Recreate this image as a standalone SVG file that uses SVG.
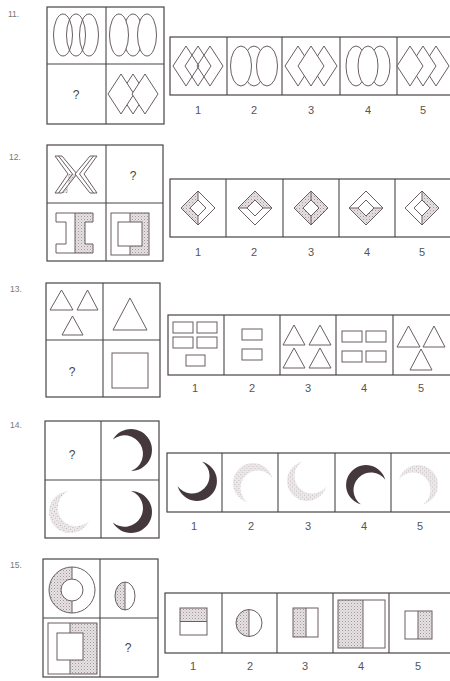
<svg xmlns="http://www.w3.org/2000/svg" xmlns:xlink="http://www.w3.org/1999/xlink" width="450" height="681" viewBox="0 0 450 681">
<defs>
<style>
.bx{fill:#fff;stroke:#4a4446;stroke-width:1.2}
.dv{stroke:#4a4446;stroke-width:1.1;fill:none}
.ln{fill:none;stroke:#6a5e62;stroke-width:1}
.wf{fill:#fff;stroke:#6a5e62;stroke-width:1}
.sh{fill:url(#st);stroke:none}
.dk{fill:#45383d}
.lt{fill:url(#st2)}
text{font-family:"Liberation Sans",Arial,sans-serif;fill:#555}
.num{font-size:11px;text-anchor:middle}
.lab{font-size:8.5px;fill:#777}
.q{font-size:12px;text-anchor:middle;fill:#444}
</style>
<pattern id="st" width="3" height="3" patternUnits="userSpaceOnUse"><rect width="3" height="3" fill="#e6e2e3"/><rect width="1" height="1" fill="#a39699"/><rect x="1.5" y="1.5" width="1" height="1" fill="#bcb2b5"/></pattern>
<pattern id="st2" width="3" height="3" patternUnits="userSpaceOnUse"><rect width="3" height="3" fill="#f1eeef"/><rect width="1" height="1" fill="#b3a9ac"/><rect x="1.5" y="1.5" width="1" height="1" fill="#cfc7c9"/></pattern>
<path id="cres" d="M-10.5,-18.2 A21,21 0 1 1 -10.5,18.2 A18.45,18.45 0 1 0 -10.5,-18.2 Z"/>
<polygon id="dia" points="0,-20 13,0 0,20 -13,0"/>
<polygon id="half" points="0,-17 -17,0 0,17 0,8 -8,0 0,-8"/>
<g id="dframe"><polygon points="0,-17 17,0 0,17 -17,0" class="ln"/><polygon points="0,-8 8,0 0,8 -8,0" class="ln"/></g>
</defs>
<rect width="450" height="681" fill="#fff"/>

<!-- Problem 11 -->
<g id="p11">
<text x="8" y="17" class="lab">11.</text>
<rect x="47" y="7" width="117" height="117" class="bx"/>
<line x1="106" y1="7" x2="106" y2="124" class="dv"/>
<line x1="47" y1="64" x2="164" y2="64" class="dv"/>
<ellipse cx="63" cy="35" rx="9.5" ry="21" class="ln"/>
<ellipse cx="76" cy="35" rx="9.5" ry="21" class="ln"/>
<ellipse cx="89" cy="35" rx="9.5" ry="21" class="ln"/>
<ellipse cx="133" cy="35" rx="9.5" ry="21" class="wf"/>
<ellipse cx="119" cy="35" rx="9.5" ry="21" class="wf"/>
<ellipse cx="147" cy="35" rx="9.5" ry="21" class="wf"/>
<text x="76" y="99" class="q">?</text>
<use href="#dia" x="133" y="94" class="wf"/>
<use href="#dia" x="121" y="94" class="wf"/>
<use href="#dia" x="145" y="94" class="wf"/>
<rect x="170" y="37" width="282" height="58" class="bx"/>
<line x1="227" y1="37" x2="227" y2="95" class="dv"/>
<line x1="282" y1="37" x2="282" y2="95" class="dv"/>
<line x1="340" y1="37" x2="340" y2="95" class="dv"/>
<line x1="397" y1="37" x2="397" y2="95" class="dv"/>
<use href="#dia" x="186" y="66" class="ln"/>
<use href="#dia" x="198" y="66" class="ln"/>
<use href="#dia" x="210" y="66" class="ln"/>
<ellipse cx="254" cy="66" rx="10.5" ry="20" class="wf"/>
<ellipse cx="241" cy="66" rx="10.5" ry="20" class="wf"/>
<ellipse cx="267" cy="66" rx="10.5" ry="20" class="wf"/>
<use href="#dia" x="298" y="66" class="wf"/>
<use href="#dia" x="324" y="66" class="wf"/>
<use href="#dia" x="311" y="66" class="wf"/>
<ellipse cx="356" cy="66" rx="10" ry="20" class="wf"/>
<ellipse cx="380" cy="66" rx="10" ry="20" class="wf"/>
<ellipse cx="368" cy="66" rx="10" ry="20" class="wf"/>
<use href="#dia" x="436" y="66" class="wf"/>
<use href="#dia" x="423" y="66" class="wf"/>
<use href="#dia" x="410" y="66" class="wf"/>
<text x="198" y="114" class="num">1</text>
<text x="254" y="114" class="num">2</text>
<text x="311" y="114" class="num">3</text>
<text x="368" y="114" class="num">4</text>
<text x="423" y="114" class="num">5</text>
</g>

<!-- Problem 12 -->
<g id="p12">
<text x="9" y="160" class="lab">12.</text>
<rect x="47" y="145" width="116" height="116" class="bx"/>
<line x1="106" y1="145" x2="106" y2="261" class="dv"/>
<line x1="47" y1="203" x2="163" y2="203" class="dv"/>
<polygon points="68,174 77,174 62,193 68,193" class="sh"/>
<polygon points="55,156 62,156 77,174 62,193 55,193 68,174" class="ln"/>
<polyline points="58.5,156 72.5,174 58.5,193" class="ln"/>
<polygon points="97,156 90,156 75,174 90,193 97,193 84,174" class="wf"/>
<polyline points="93.5,156 79.5,174 93.5,193" class="ln"/>
<text x="133" y="180" class="q">?</text>
<polygon points="75,213 93,213 93,222 85,222 85,244 93,244 93,253 75,253" class="sh"/>
<polygon points="56,213 93,213 93,222 85,222 85,244 93,244 93,253 56,253 56,244 66,244 66,222 56,222" class="ln"/>
<line x1="75" y1="213" x2="75" y2="253" class="ln"/>
<rect x="130" y="213" width="19" height="42" class="sh"/>
<rect x="111" y="213" width="38" height="42" class="ln"/>
<rect x="118" y="222" width="24" height="24" class="wf"/>
<line x1="130" y1="213" x2="130" y2="222" class="ln"/>
<line x1="130" y1="246" x2="130" y2="255" class="ln"/>
<rect x="170" y="179" width="282" height="58" class="bx"/>
<line x1="226" y1="179" x2="226" y2="237" class="dv"/>
<line x1="283" y1="179" x2="283" y2="237" class="dv"/>
<line x1="339" y1="179" x2="339" y2="237" class="dv"/>
<line x1="395" y1="179" x2="395" y2="237" class="dv"/>
<g transform="translate(198,208)"><use href="#half" class="sh"/><use href="#dframe"/><path d="M0,-17V-8M0,8V17" class="ln"/></g>
<g transform="translate(255,208)"><use href="#half" class="sh" transform="rotate(90)"/><use href="#dframe"/><path d="M-17,0H-8M8,0H17" class="ln"/></g>
<g transform="translate(311,208)"><path d="M0,-17L17,0L0,17L-17,0ZM0,-8L-8,0L0,8L8,0Z" class="sh"/><use href="#dframe"/><path d="M0,-17V-8M0,8V17" class="ln"/></g>
<g transform="translate(366,208)"><use href="#half" class="sh" transform="rotate(270)"/><use href="#dframe"/><path d="M-17,0H-8M8,0H17" class="ln"/></g>
<g transform="translate(422,208)"><use href="#half" class="sh" transform="rotate(180)"/><use href="#dframe"/><path d="M0,-17V-8M0,8V17" class="ln"/></g>
<text x="198" y="256" class="num">1</text>
<text x="254" y="256" class="num">2</text>
<text x="311" y="256" class="num">3</text>
<text x="367" y="256" class="num">4</text>
<text x="422" y="256" class="num">5</text>
</g>

<!-- Problem 13 -->
<g id="p13">
<text x="10" y="292" class="lab">13.</text>
<rect x="46" y="283" width="114" height="114" class="bx"/>
<line x1="103" y1="283" x2="103" y2="397" class="dv"/>
<line x1="46" y1="340" x2="160" y2="340" class="dv"/>
<polygon points="50,310 61.5,290 73,310" class="ln"/>
<polygon points="77,310 87.5,290 98,310" class="ln"/>
<polygon points="62,335 72.5,316 83,335" class="ln"/>
<polygon points="113,330 130,298 147,330" class="ln"/>
<text x="72" y="376" class="q">?</text>
<rect x="112" y="353" width="36" height="35" class="ln"/>
<rect x="168" y="315" width="284" height="60" class="bx"/>
<line x1="224" y1="315" x2="224" y2="375" class="dv"/>
<line x1="280" y1="315" x2="280" y2="375" class="dv"/>
<line x1="336" y1="315" x2="336" y2="375" class="dv"/>
<line x1="393" y1="315" x2="393" y2="375" class="dv"/>
<rect x="173" y="322" width="20" height="11" class="ln"/>
<rect x="197" y="322" width="20" height="11" class="ln"/>
<rect x="173" y="337" width="20" height="11" class="ln"/>
<rect x="197" y="337" width="20" height="11" class="ln"/>
<rect x="186" y="355" width="19" height="11" class="ln"/>
<rect x="242" y="329" width="20" height="11" class="ln"/>
<rect x="242" y="349" width="20" height="11" class="ln"/>
<polygon points="283,345 294,325 305,345" class="ln"/>
<polygon points="309,345 320,325 331,345" class="ln"/>
<polygon points="283,368 294,348 305,368" class="ln"/>
<polygon points="309,368 320,348 331,368" class="ln"/>
<rect x="342" y="331" width="20" height="11" class="ln"/>
<rect x="366" y="331" width="20" height="11" class="ln"/>
<rect x="342" y="351" width="20" height="11" class="ln"/>
<rect x="366" y="351" width="20" height="11" class="ln"/>
<polygon points="397,347 408.5,326 420,347" class="ln"/>
<polygon points="423,347 434,326 445,347" class="ln"/>
<polygon points="410,370 421,349 432,370" class="ln"/>
<text x="195" y="392" class="num">1</text>
<text x="252" y="392" class="num">2</text>
<text x="308" y="392" class="num">3</text>
<text x="364" y="392" class="num">4</text>
<text x="421" y="392" class="num">5</text>
</g>

<!-- Problem 14 -->
<g id="p14">
<text x="10" y="428" class="lab">14.</text>
<rect x="45" y="421" width="114" height="117" class="bx"/>
<line x1="101" y1="421" x2="101" y2="538" class="dv"/>
<line x1="45" y1="480" x2="159" y2="480" class="dv"/>
<text x="72" y="459" class="q">?</text>
<use href="#cres" class="dk" transform="translate(131,450) rotate(-30)"/>
<use href="#cres" class="dk" transform="translate(131,512) rotate(30)"/>
<use href="#cres" class="lt" transform="translate(70,512) rotate(145)"/>
<rect x="167" y="453" width="285" height="59" class="bx"/>
<line x1="222" y1="453" x2="222" y2="512" class="dv"/>
<line x1="278" y1="453" x2="278" y2="512" class="dv"/>
<line x1="335" y1="453" x2="335" y2="512" class="dv"/>
<line x1="391" y1="453" x2="391" y2="512" class="dv"/>
<use href="#cres" class="dk" transform="translate(197,481) rotate(45) scale(0.95)"/>
<use href="#cres" class="lt" transform="translate(253,483) rotate(-135) scale(0.95)"/>
<use href="#cres" class="lt" transform="translate(307,481) rotate(135) scale(0.95)"/>
<use href="#cres" class="dk" transform="translate(366,485) rotate(-135) scale(0.95)"/>
<use href="#cres" class="lt" transform="translate(418,485) rotate(-45) scale(0.95)"/>
<text x="194" y="530" class="num">1</text>
<text x="251" y="530" class="num">2</text>
<text x="308" y="530" class="num">3</text>
<text x="364" y="530" class="num">4</text>
<text x="420" y="530" class="num">5</text>
</g>

<!-- Problem 15 -->
<g id="p15">
<text x="10" y="568" class="lab">15.</text>
<rect x="43" y="559" width="115" height="118" class="bx"/>
<line x1="100" y1="559" x2="100" y2="677" class="dv"/>
<line x1="43" y1="618" x2="158" y2="618" class="dv"/>
<path d="M72,567 A23,23 0 0 0 72,613 L72,601 A11,11 0 0 1 72,579 Z" class="sh"/>
<circle cx="72" cy="590" r="23" class="ln"/>
<circle cx="72" cy="590" r="11" class="wf"/>
<path d="M72,567V579M72,601V613" class="ln"/>
<path d="M125,582 A10,14 0 0 0 125,610 Z" class="sh"/>
<ellipse cx="125" cy="596" rx="10" ry="14" class="ln"/>
<line x1="125" y1="582" x2="125" y2="610" class="ln"/>
<rect x="70" y="623" width="27" height="51" class="sh"/>
<rect x="48" y="623" width="49" height="51" class="ln"/>
<rect x="57" y="633" width="26" height="27" class="wf"/>
<path d="M70,623V633M70,660V674" class="ln"/>
<text x="128" y="652" class="q">?</text>
<rect x="165" y="593" width="287" height="60" class="bx"/>
<line x1="222" y1="593" x2="222" y2="653" class="dv"/>
<line x1="277" y1="593" x2="277" y2="653" class="dv"/>
<line x1="333" y1="593" x2="333" y2="653" class="dv"/>
<line x1="389" y1="593" x2="389" y2="653" class="dv"/>
<rect x="180" y="608" width="27" height="13.5" class="sh"/>
<rect x="180" y="608" width="27" height="27" class="ln"/>
<line x1="180" y1="621.5" x2="207" y2="621.5" class="ln"/>
<path d="M249,609.5 A13,13.5 0 0 0 249,636.5 Z" class="sh"/>
<ellipse cx="249" cy="623" rx="13" ry="13.5" class="ln"/>
<line x1="249" y1="609.5" x2="249" y2="636.5" class="ln"/>
<rect x="293" y="608" width="13" height="29" class="sh"/>
<rect x="293" y="608" width="25" height="29" class="ln"/>
<line x1="306" y1="608" x2="306" y2="637" class="ln"/>
<rect x="338" y="600" width="25" height="48" class="sh"/>
<rect x="338" y="600" width="47" height="48" class="ln"/>
<line x1="363" y1="600" x2="363" y2="648" class="ln"/>
<rect x="418" y="611" width="14" height="28" class="sh"/>
<rect x="405" y="611" width="27" height="28" class="ln"/>
<line x1="418" y1="611" x2="418" y2="639" class="ln"/>
<text x="193" y="670" class="num">1</text>
<text x="250" y="670" class="num">2</text>
<text x="305" y="670" class="num">3</text>
<text x="361" y="670" class="num">4</text>
<text x="418" y="670" class="num">5</text>
</g>
</svg>
